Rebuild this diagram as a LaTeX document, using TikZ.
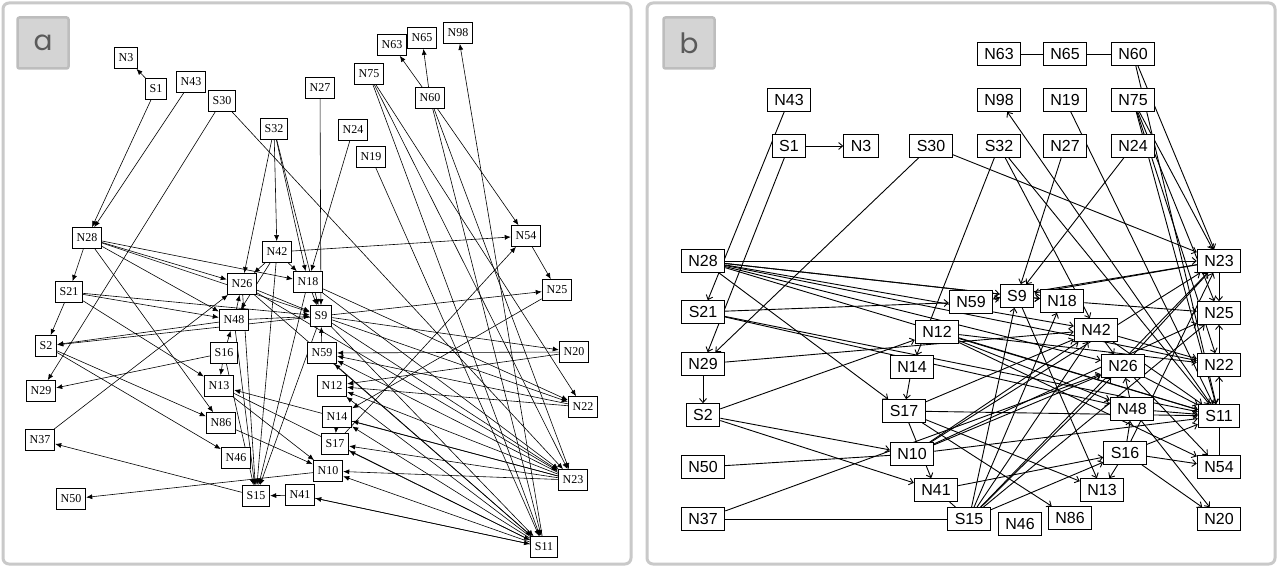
\documentclass[tikz,border=0pt]{standalone}
\usepackage{fontspec}
\setmainfont{Liberation Serif}
\newfontfamily\helv{Liberation Sans}
\newfontfamily\tagfont{Poppins}
\usetikzlibrary{arrows.meta}
\definecolor{framegray}{HTML}{C9C9C9}
\definecolor{tagfill}{HTML}{D4D4D4}
\definecolor{tagedge}{HTML}{BDBDBD}
\definecolor{tagtext}{HTML}{5A5A5A}
\pgfdeclarelayer{back}
\pgfdeclarelayer{edges}
\pgfsetlayers{back,edges,main}
\begin{document}
\begin{tikzpicture}[x=1pt,y=-1pt,
  panel/.style={draw=framegray,line width=3pt,rounded corners=6pt,fill=white},
  tag/.style={draw=tagedge,fill=tagfill,line width=2.5pt,rounded corners=2pt,
    minimum width=51pt,minimum height=51pt,inner sep=0pt,
    font=\tagfont\fontsize{28}{30}\selectfont,text=tagtext},
  anode/.style={draw,line width=0.8pt,fill=white,font=\fontsize{12}{12}\selectfont,
    inner xsep=4.5pt,inner ysep=0pt,minimum height=21pt},
  bnode/.style={draw,line width=1.1pt,fill=white,font=\helv\fontsize{16}{16}\selectfont,
    inner xsep=7pt,inner ysep=0pt,minimum height=22.5pt},
  aedge/.style={line width=0.6pt,-{Latex[length=6pt,width=5pt]}},
  bedge/.style={line width=0.9pt,-{Straight Barb[length=4pt,width=7pt]}},
  bline/.style={line width=0.9pt}]

\useasboundingbox (0,0) rectangle (1279,567);
\begin{pgfonlayer}{back}
  \fill[white] (0,0) rectangle (1279,567);
  \draw[panel] (3,3) rectangle (631,564);
  \draw[panel] (647,3) rectangle (1275,564);
\end{pgfonlayer}
\node[tag] (taga) at (43,43) {a};
\node[tag] (tagb) at (689,43) {b};

% ---------- panel a ----------
\node[anode] (aN3)  at (126,58)  {N3};
\node[anode] (aS1)  at (156,89)  {S1};
\node[anode] (aN43) at (191,82)  {N43};
\node[anode] (aS30) at (222,101) {S30};
\node[anode] (aS32) at (274,129) {S32};
\node[anode] (aN28) at (87,238)  {N28};
\node[anode] (aN42) at (277,252) {N42};
\node[anode] (aN26) at (242,284) {N26};
\node[anode] (aN18) at (308,282) {N18};
\node[anode] (aS9)  at (321,316) {S9};
\node[anode] (aN48) at (234,320) {N48};
\node[anode] (aS16) at (224,353) {S16};
\node[anode] (aN59) at (322,353) {N59};
\node[anode] (aN13) at (219,386) {N13};
\node[anode] (aN12) at (332,386) {N12};
\node[anode] (aN14) at (337,417) {N14};
\node[anode] (aS17) at (335,444) {S17};
\node[anode] (aN10) at (328,471) {N10};
\node[anode] (aN41) at (300,495) {N41};
\node[anode] (aS15) at (256,496) {S15};
\node[anode] (aN86) at (221,423) {N86};
\node[anode] (aN46) at (236,458) {N46};
\node[anode] (aS21) at (69,292)  {S21};
\node[anode] (aS2)  at (46,346)  {S2};
\node[anode] (aN29) at (41,391)  {N29};
\node[anode] (aN37) at (40,440)  {N37};
\node[anode] (aN50) at (71,499)  {N50};
\node[anode] (aN27) at (320,88)  {N27};
\node[anode] (aN75) at (369,74)  {N75};
\node[anode] (aN63) at (392,45)  {N63};
\node[anode] (aN65) at (422,38)  {N65};
\node[anode] (aN98) at (458,33)  {N98};
\node[anode] (aN60) at (430,98)  {N60};
\node[anode] (aN24) at (353,130) {N24};
\node[anode] (aN19) at (371,157) {N19};
\node[anode] (aN54) at (526,236) {N54};
\node[anode] (aN25) at (557,290) {N25};
\node[anode] (aN20) at (574,352) {N20};
\node[anode] (aN22) at (583,407) {N22};
\node[anode] (aN23) at (573,480) {N23};
\node[anode] (aS11) at (544,547) {S11};

\begin{pgfonlayer}{edges}
\foreach \s/\t in {aS1/aN3, aS1/aN28, aN43/aN28, aS30/aN29, aS30/aN23, aS32/aN42,
  aS32/aN26, aS32/aN18, aS32/aS9, aN28/aS21, aN28/aN26, aN28/aN48, aN28/aS9,
  aN28/aN18, aN28/aN86, aS21/aS2, aS21/aN48, aS21/aS9, aS21/aN13, aS2/aN86,
  aS2/aN46, aS9/aS2, aN48/aS2, aS16/aN29, aN37/aN26, aS15/aN37, aN10/aN50,
  aN41/aS15, aN26/aS15, aN42/aS15, aN18/aS15, aS9/aS15, aN48/aS15, aN27/aS9,
  aN24/aN18, aN19/aS11, aN60/aN63, aN60/aN65, aS11/aN98, aN60/aS11, aN60/aN23,
  aN60/aN54, aN75/aS11, aN75/aN23, aN75/aN22, aN42/aN54, aN54/aN25, aS17/aN54,
  aN25/aN14, aS9/aN25, aS9/aN20, aS9/aN22, aS9/aN23, aS9/aS11, aN18/aN22,
  aN18/aN23, aN26/aN23, aN26/aS11, aN23/aN10, aN23/aN12, aN23/aS17, aN23/aN14,
  aN23/aN59, aN23/aN13, aS11/aN10, aS11/aS17, aS11/aN41, aS11/aN12, aS11/aN59,
  aS11/aN14, aN22/aN12, aN22/aN59, aN20/aN12, aN20/aN59, aN48/aS9, aN26/aS9,
  aN42/aN26, aN42/aN18, aN18/aS9, aN48/aN26, aS16/aN13, aS16/aN48, aN59/aS9,
  aN14/aS17, aN86/aN10, aN13/aN10, aS16/aS15, aN42/aN48, aN13/aS11, aN41/aS11}
  \draw[aedge] (\s) -- (\t);
\end{pgfonlayer}

% ---------- panel b ----------
\node[bnode] (bN63) at (999,54)   {N63};
\node[bnode] (bN65) at (1065,54)  {N65};
\node[bnode] (bN60) at (1133,54)  {N60};
\node[bnode] (bN98) at (999,100)  {N98};
\node[bnode] (bN19) at (1065,100) {N19};
\node[bnode] (bN75) at (1133,100) {N75};
\node[bnode] (bS32) at (999,146)  {S32};
\node[bnode] (bN27) at (1065,146) {N27};
\node[bnode] (bN24) at (1133,146) {N24};
\node[bnode] (bN43) at (789,100)  {N43};
\node[bnode] (bS1)  at (789,146)  {S1};
\node[bnode] (bN3)  at (861,146)  {N3};
\node[bnode] (bS30) at (931,146)  {S30};
\node[bnode] (bN28) at (703,261)  {N28};
\node[bnode] (bS21) at (703,312)  {S21};
\node[bnode] (bN29) at (703,364)  {N29};
\node[bnode] (bS2)  at (703,415)  {S2};
\node[bnode] (bN50) at (703,467)  {N50};
\node[bnode] (bN37) at (703,519)  {N37};
\node[bnode] (bN59) at (971,302)  {N59};
\node[bnode] (bS9)  at (1017,296) {S9};
\node[bnode] (bN18) at (1062,301) {N18};
\node[bnode] (bN12) at (937,332)  {N12};
\node[bnode] (bN42) at (1096,330) {N42};
\node[bnode] (bN14) at (912,367)  {N14};
\node[bnode] (bN26) at (1123,366) {N26};
\node[bnode] (bS17) at (904,411)  {S17};
\node[bnode] (bN48) at (1132,409) {N48};
\node[bnode] (bN10) at (912,454)  {N10};
\node[bnode] (bS16) at (1125,453) {S16};
\node[bnode] (bN41) at (936,490)  {N41};
\node[bnode] (bN13) at (1102,490) {N13};
\node[bnode] (bS15) at (969,519)  {S15};
\node[bnode] (bN46) at (1020,524) {N46};
\node[bnode] (bN86) at (1070,518) {N86};
\node[bnode] (bN23) at (1219,261) {N23};
\node[bnode] (bN25) at (1219,313) {N25};
\node[bnode] (bN22) at (1219,365) {N22};
\node[bnode] (bS11) at (1219,416) {S11};
\node[bnode] (bN54) at (1219,467) {N54};
\node[bnode] (bN20) at (1219,519) {N20};

\begin{pgfonlayer}{edges}
\foreach \s/\t in {bN63/bN65, bN65/bN60, bN37/bS15, bN54/bS11, bN41/bS15, bN50/bN10}
  \draw[bline] (\s) -- (\t);
\foreach \s/\t in {bS1/bN3, bN43/bS21, bS1/bN29, bS30/bN29, bS30/bN23, bN29/bS2,
  bN28/bS17, bN28/bN23, bN28/bS9, bN28/bN18, bN28/bN42, bN28/bN22, bN28/bS11,
  bN28/bN26, bS21/bN59, bS21/bN48, bS21/bS11, bN29/bN42, bS2/bN12, bS2/bN10,
  bS2/bN41, bN37/bN26, bS32/bN14, bS32/bN42, bS32/bS11, bN27/bS9, bN24/bS9,
  bN19/bS11, bS11/bN98, bN60/bN23, bN60/bS11, bN75/bN23, bN75/bS11, bN75/bN22,
  bN75/bN25, bN23/bS9, bN23/bN59, bN23/bN25, bS11/bN25, bS11/bN22, bN14/bS17,
  bS17/bN41, bS17/bS11, bS17/bN86, bS17/bN13, bS17/bN42, bN10/bN42, bN10/bN26,
  bN10/bN23, bN10/bS11, bN10/bN25, bN41/bS16, bS15/bS9, bS15/bN18, bS15/bN42,
  bS15/bN26, bS15/bN23, bS15/bN25, bS15/bS16, bN12/bS11, bN12/bN22, bN12/bN54,
  bN59/bS9, bS9/bN18, bN18/bN25, bN42/bN26, bN48/bN26, bS16/bN48, bS16/bN13,
  bS16/bN20, bN48/bN20, bN26/bN54, bS16/bS11, bN48/bS11, bS16/bN23, bN42/bN22,
  bN42/bS11, bN26/bN23, bN26/bS11, bS16/bN54, bS9/bN13, bN12/bN48}
  \draw[bedge] (\s) -- (\t);
\end{pgfonlayer}
\end{tikzpicture}
\end{document}
